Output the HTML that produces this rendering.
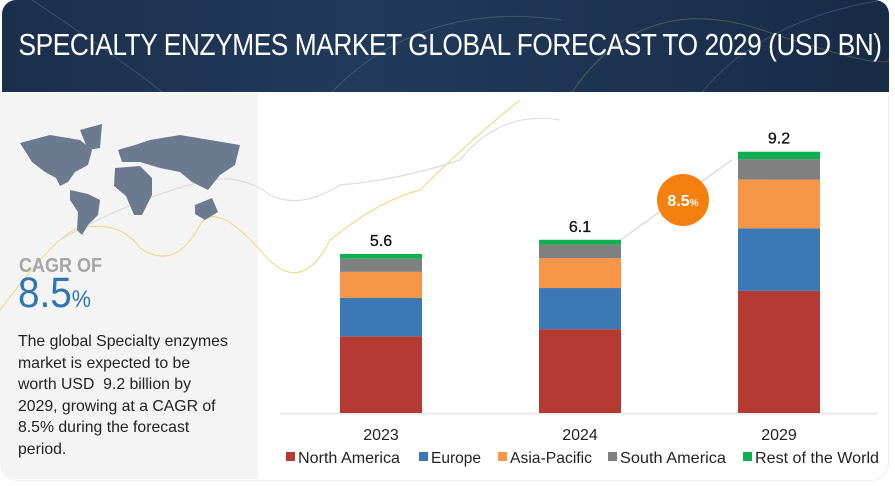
<!DOCTYPE html>
<html><head><meta charset="utf-8"><style>
body{margin:0;width:895px;height:486px;background:#fff;font-family:"Liberation Sans",sans-serif;overflow:hidden;position:relative}
#hdr{position:absolute;left:2px;top:0;width:887px;height:92px;border-radius:14px 14px 0 0;background:linear-gradient(90deg,#1a2f4d,#213a5a 40%,#1c3352 70%,#172b45);overflow:hidden}
#hdr h1{position:absolute;left:-60px;width:1007px;top:27px;margin:0;text-align:center;color:#fff;font-size:31px;font-weight:normal;letter-spacing:-0.5px;transform:scaleX(0.848);white-space:nowrap}
#card{position:absolute;left:0;top:92px;width:887px;height:388px;border:1px solid #eee;border-top:none;border-radius:0 0 18px 18px}
#left{position:absolute;left:0;top:93px;width:258px;height:386px;background:#f4f4f4;border-radius:0 0 0 18px}
.t{position:absolute;font-family:"Liberation Sans",sans-serif}
</style></head><body>
<div id="hdr">
<svg width="887" height="92" style="position:absolute;left:0;top:0">
<path d="M30 0 Q120 60 160 92" stroke="#4a6f95" fill="none" opacity=".5"/>
<path d="M330 92 Q420 0 560 20" stroke="#8aa" fill="none" opacity=".3"/>
<path d="M570 92 Q640 -10 760 30 T887 60" stroke="#b9a46a" fill="none" opacity=".35"/>
<path d="M700 92 Q760 20 880 0" stroke="#6b8fb0" fill="none" opacity=".35"/>
</svg>
<h1>SPECIALTY ENZYMES MARKET GLOBAL FORECAST TO 2029 (USD BN)</h1>
</div>
<div id="card"></div>
<div id="left"></div>
<svg width="895" height="486" style="position:absolute;left:0;top:0">
<path d="M0 310 Q60 230 80 228 Q120 220 140 248 Q175 272 200 225 Q215 200 260 250 Q300 300 330 240 Q380 200 420 190 Q470 140 520 100" stroke="#f2d98a" fill="none" stroke-width="1.2"/>
<path d="M60 240 Q130 200 200 182 Q240 172 270 195 Q300 210 340 185 Q400 180 460 160 Q500 110 560 120" stroke="#ddd" fill="none" stroke-width="1.2"/>
<g fill="#6b7a8f">
<path d="M20 143 L50 135 L80 140 L92 150 L88 165 L75 172 L68 182 L60 186 L56 178 L45 172 L32 162 Z"/>
<path d="M80 130 L102 124 L100 148 L88 150 Z"/>
<path d="M70 190 L88 194 L100 200 L98 215 L88 225 L82 235 L77 230 L78 212 L70 200 Z"/>
<path d="M118 150 L135 145 L150 140 L180 135 L240 145 L235 165 L220 175 L208 190 L192 182 L180 172 L160 168 L140 162 L122 162 Z"/>
<path d="M115 168 L140 166 L152 178 L152 195 L142 215 L134 215 L126 196 L114 186 Z"/>
<path d="M195 205 L212 198 L218 212 L205 220 L195 214 Z"/>
</g>
</svg>
<div class="t" style="left:19px;top:255px;font-size:20px;font-weight:bold;color:#a5a5a5;transform:scaleX(0.9);transform-origin:left">CAGR OF</div>
<div class="t" style="left:18px;top:269px;font-size:43px;color:#2e75b6;transform:scaleX(0.9);transform-origin:left">8.5<span style="font-size:24px">%</span></div>
<div class="t" style="left:18px;top:331px;width:212px;font-size:15.8px;line-height:21.5px;color:#222">The global Specialty enzymes market is expected to be worth USD&nbsp; 9.2 billion by 2029, growing at a CAGR of 8.5% during the forecast period.</div>
<svg id="ch" width="895" height="486" style="position:absolute;left:0;top:0"></svg>
<script>
const categories=["2023","2024","2029"];
const totals=["5.6","6.1","9.2"];
const seriesNames=["North America","Europe","Asia-Pacific","South America","Rest of the World"];
const northAmerica=[2.7,2.95,4.3];
const europe=[1.35,1.45,2.2];
const asiaPacific=[0.92,1.05,1.72];
const southAmerica=[0.46,0.48,0.72];
const restOfWorld=[0.17,0.17,0.26];
const colors=["#b53a32","#3b78b5","#f79646","#808080","#0fb04f"];
const series=[northAmerica,europe,asiaPacific,southAmerica,restOfWorld];
const NS="http://www.w3.org/2000/svg",svg=document.getElementById('ch');
const base=413,ppu=28.4,x0=340,step=199,bw=82;
const xS=i=>x0+i*step, yS=v=>base-v*ppu;
function mk(t,a){const e=document.createElementNS(NS,t);for(const k in a)e.setAttribute(k,a[k]);svg.appendChild(e);return e;}
const ax=mk('line',{x1:280,x2:878,y1:base+0.5,y2:base+0.5,stroke:'#e8e8e8','stroke-width':2});


const tops=[];
categories.forEach((c,i)=>{
 let cum=0;
 series.forEach((s,j)=>{
  const r=mk('rect',{x:xS(i),y:yS(cum+s[i]),width:bw,height:s[i]*ppu,fill:colors[j]});
  
  
  cum+=s[i];
 });
 tops.push(yS(cum));
 const v=mk('text',{x:xS(i)+bw/2,y:yS(cum)-8,'text-anchor':'middle','font-size':16,fill:'#111','font-family':'Liberation Sans','stroke':'#111','stroke-width':0.3});
 v.textContent=totals[i];
 
 
 const l=mk('text',{x:xS(i)+bw/2,y:440,'text-anchor':'middle','font-size':16,fill:'#222','font-family':'Liberation Sans'});
 l.textContent=c;
 
 
});
const ar=mk('line',{x1:xS(1)+bw,y1:tops[1],x2:xS(2)-6,y2:tops[2]+8,stroke:'#ddd','stroke-width':1.5});


const cc=mk('circle',{cx:683,cy:200,r:26,fill:'#f57f0f'});


const ct=mk('text',{x:683,y:206,'text-anchor':'middle','font-size':16,'font-weight':'bold',fill:'#fff','font-family':'Liberation Sans'});
ct.innerHTML='8.5<tspan font-size="10">%</tspan>';


const lx=[286,419,498,608,743];
const lw=[102,50,82,106,124];
seriesNames.forEach((n,j)=>{
 const r=mk('rect',{x:lx[j],y:452,width:9,height:9,fill:colors[j]});
 
 
 const t=mk('text',{x:lx[j]+12,y:463,'font-size':16,fill:'#222','font-family':'Liberation Sans',textLength:lw[j],lengthAdjust:'spacingAndGlyphs'});
 t.textContent=n;
 
 
});
</script>
</body></html>
